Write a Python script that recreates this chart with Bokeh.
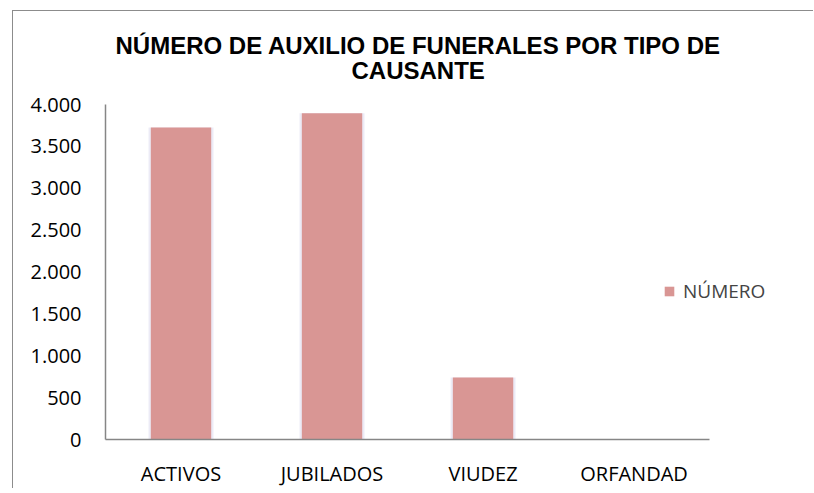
from bokeh.plotting import figure
from bokeh.models import Title, Legend, LegendItem, FixedTicker, Range1d
from bokeh.embed import file_html
from bokeh.resources import INLINE

categories = ["ACTIVOS", "JUBILADOS", "VIUDEZ", "ORFANDAD"]
values = [3725, 3895, 740, 0]
y_ticks = [0, 500, 1000, 1500, 2000, 2500, 3000, 3500, 4000]
y_tick_labels = ["0", "500", "1.000", "1.500", "2.000", "2.500", "3.000", "3.500", "4.000"]
series_name = "NÚMERO"
title_lines = ["NÚMERO DE AUXILIO DE FUNERALES POR TIPO DE", "CAUSANTE"]

BAR = "#D99694"
AXIS = "#868686"
TICK_FONT = "Open Sans"
TICK_SIZE = "20px"
TITLE_SIZE = "24px"

xs = list(range(len(categories)))
n = len(categories)

p = figure(x_range=Range1d(-0.5, n - 0.5 + 0.536), y_range=Range1d(0, 4000),
           width=801, height=478, output_backend="svg", toolbar_location=None,
           min_border_left=92, min_border_right=24, min_border_top=93, min_border_bottom=47)
p.styles = {"margin-left": "12px", "margin-top": "10px",
            "border-left": "1px solid #8c8c8c", "border-top": "1px solid #8c8c8c"}
p.outline_line_color = None
p.xgrid.grid_line_color = None
p.ygrid.grid_line_color = None

# faint shadow
p.vbar(x=xs, top=values, width=0.43, fill_color="#c9c6e6", fill_alpha=0.35, line_color=None)
r = p.vbar(x=xs, top=values, width=0.40, fill_color=BAR, line_color=None)

for ax in (p.xaxis[0], p.yaxis[0]):
    ax.axis_line_color = AXIS
    ax.axis_line_width = 1.5
    ax.major_tick_line_color = None
    ax.minor_tick_line_color = None
    ax.major_label_text_font = TICK_FONT
    ax.major_label_text_font_size = TICK_SIZE
    ax.major_label_text_color = "#000000"

p.yaxis[0].ticker = FixedTicker(ticks=y_ticks)
p.yaxis[0].major_label_overrides = {t: l for t, l in zip(y_ticks, y_tick_labels)}
p.yaxis[0].major_label_standoff = 18
p.xaxis[0].ticker = FixedTicker(ticks=xs)
p.xaxis[0].major_label_overrides = {x: c for x, c in zip(xs, categories)}
p.xaxis[0].major_label_standoff = 14
p.xaxis[0].bounds = (-0.5, n - 0.5)

p.add_layout(Title(text=title_lines[1], align="left", offset=246, text_font="Liberation Sans",
                   text_font_size=TITLE_SIZE, text_font_style="bold", text_color="#000000",
                   standoff=41), "above")
p.add_layout(Title(text=title_lines[0], align="left", offset=10, text_font="Liberation Sans",
                   text_font_size=TITLE_SIZE, text_font_style="bold", text_color="#000000",
                   standoff=-49), "above")

legend = Legend(items=[LegendItem(label=series_name, renderers=[r])],
                location=(558, 135), glyph_width=12, glyph_height=12,
                label_text_font=TICK_FONT, label_text_font_size="19px",
                padding=0, margin=0, border_line_color=None, background_fill_alpha=0,
                label_standoff=8)
p.add_layout(legend)

open("out.html", "w").write(file_html(p, INLINE))
